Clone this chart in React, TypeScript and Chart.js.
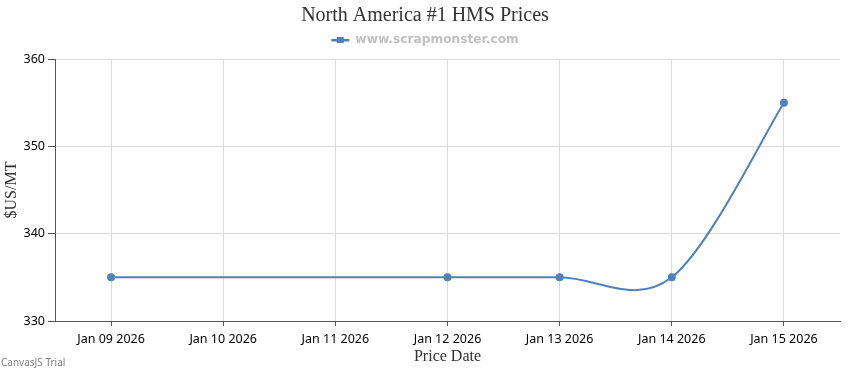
import React, { useEffect, useRef } from "react";
import { Chart, registerables } from "chart.js";

Chart.register(...registerables);

const categories = [
  "Jan 09 2026",
  "Jan 10 2026",
  "Jan 11 2026",
  "Jan 12 2026",
  "Jan 13 2026",
  "Jan 14 2026",
  "Jan 15 2026",
];
const prices: (number | null)[] = [335, null, null, 335, 335, 335, 355];
const yMin = 330;
const yMax = 360;
const yStep = 10;
const seriesName = "www.scrapmonster.com";
const chartTitle = "North America #1 HMS Prices";
const yTitle = "$US/MT";
const xTitle = "Price Date";

const BLUE = "#4F81BC";

// CanvasJS-like spline: control points at p ± (next - prev) / 6
const splinePlugin = {
  id: "canvasjsSpline",
  beforeDatasetDraw(chart: any, args: any) {
    const meta = args.meta;
    const line = meta.dataset;
    if (!line) return;
    line.updateControlPoints(chart.chartArea, meta.indexAxis);
    const pts = meta.data.filter((p: any) => !p.skip);
    const n = pts.length;
    for (let i = 0; i < n; i++) {
      const p = pts[i];
      const a = pts[Math.max(0, i - 1)];
      const b = pts[Math.min(n - 1, i + 1)];
      const dx = (b.x - a.x) / 6;
      const dy = (b.y - a.y) / 6;
      p.cp1x = p.x - dx;
      p.cp1y = p.y - dy;
      p.cp2x = p.x + dx;
      p.cp2y = p.y + dy;
    }
  },
};

const extrasPlugin = {
  id: "extras",
  afterDraw(chart: any) {
    const ctx = chart.ctx;
    ctx.save();
    // legend marker (line with square)
    const lg = chart.legend;
    if (lg && lg.legendHitBoxes && lg.legendHitBoxes[0]) {
      const hb = lg.legendHitBoxes[0];
      const cy = Math.round(hb.top + hb.height / 2);
      ctx.fillStyle = BLUE;
      ctx.fillRect(hb.left, cy - 1, 18, 2.5);
      ctx.fillRect(hb.left + 5.5, cy - 3, 7, 6);
    }
    ctx.font = "10px 'Noto Sans'";
    ctx.fillStyle = "#808080";
    ctx.textAlign = "left";
    ctx.textBaseline = "middle";
    ctx.fillText("CanvasJS Trial", 1, 363);
    ctx.restore();
  },
};

export default function App() {
  const ref = useRef<HTMLCanvasElement>(null);
  useEffect(() => {
    document.body.style.margin = "0";
    const chart = new Chart(ref.current!, {
      type: "line",
      data: {
        labels: categories,
        datasets: [
          {
            label: seriesName,
            data: prices,
            borderColor: BLUE,
            backgroundColor: BLUE,
            borderWidth: 2,
            pointRadius: 4,
            pointStyle: "circle",
            pointBackgroundColor: BLUE,
            pointBorderWidth: 0,
            tension: 0.4,
            spanGaps: true,
          } as any,
        ],
      },
      options: {
        animation: false,
        responsive: false,
        layout: { padding: { left: 10, right: 10, top: 0, bottom: 0 } },
        plugins: {
          title: {
            display: true,
            text: chartTitle,
            color: "#333",
            font: { family: "'Liberation Serif'", size: 20, weight: "normal" },
            padding: { top: 3.5, bottom: 0.5 },
          },
          legend: {
            display: true,
            labels: {
              usePointStyle: false,
              boxWidth: 18,
              boxHeight: 18,
              color: "#c0c0c0",
              font: { family: "'DejaVu Sans'", size: 12.2, weight: "bold" },
              padding: 3,
              generateLabels: () => [
                {
                  text: seriesName,
                  fillStyle: "rgba(0,0,0,0)",
                  strokeStyle: "rgba(0,0,0,0)",
                  lineWidth: 0,
                  fontColor: "#c0c0c0",
                  datasetIndex: 0,
                } as any,
              ],
            },
          },
          tooltip: { enabled: false },
        },
        scales: {
          x: {
            type: "category",
            offset: true,
            grid: {
              color: "#dcdcdc",
              tickColor: "#555",
              tickLength: 5,
              offset: false,
            },
            border: { color: "#555", width: 1 },
            ticks: {
              color: "#000",
              font: { family: "'Noto Sans'", size: 12.5 },
              maxRotation: 0,
              autoSkip: false,
              padding: 6,
            },
            title: {
              display: true,
              text: xTitle,
              color: "#333",
              font: { family: "'Liberation Serif'", size: 16 },
              padding: { top: 0, bottom: 4 },
            },
            afterFit: (s: any) => {
              s.height = 49;
            },
          },
          y: {
            min: yMin,
            max: yMax,
            grid: {
              color: "#dcdcdc",
              tickColor: "#555",
              tickLength: 7,
            },
            border: { color: "#555", width: 1 },
            ticks: {
              stepSize: yStep,
              color: "#000",
              font: { family: "'Noto Sans'", size: 12.5 },
              padding: 3,
            },
            title: {
              display: true,
              text: yTitle,
              color: "#333",
              font: { family: "'Liberation Serif'", size: 16 },
              padding: { top: -7.6, bottom: 0 },
            },
            afterFit: (s: any) => {
              s.width = 45;
            },
          },
        },
      },
      plugins: [splinePlugin, extrasPlugin],
    });
    return () => chart.destroy();
  }, []);
  return (
    <div style={{ position: "absolute", left: 0, top: 0, width: 850, height: 370 }}>
      <canvas ref={ref} width={850} height={370} />
    </div>
  );
}
